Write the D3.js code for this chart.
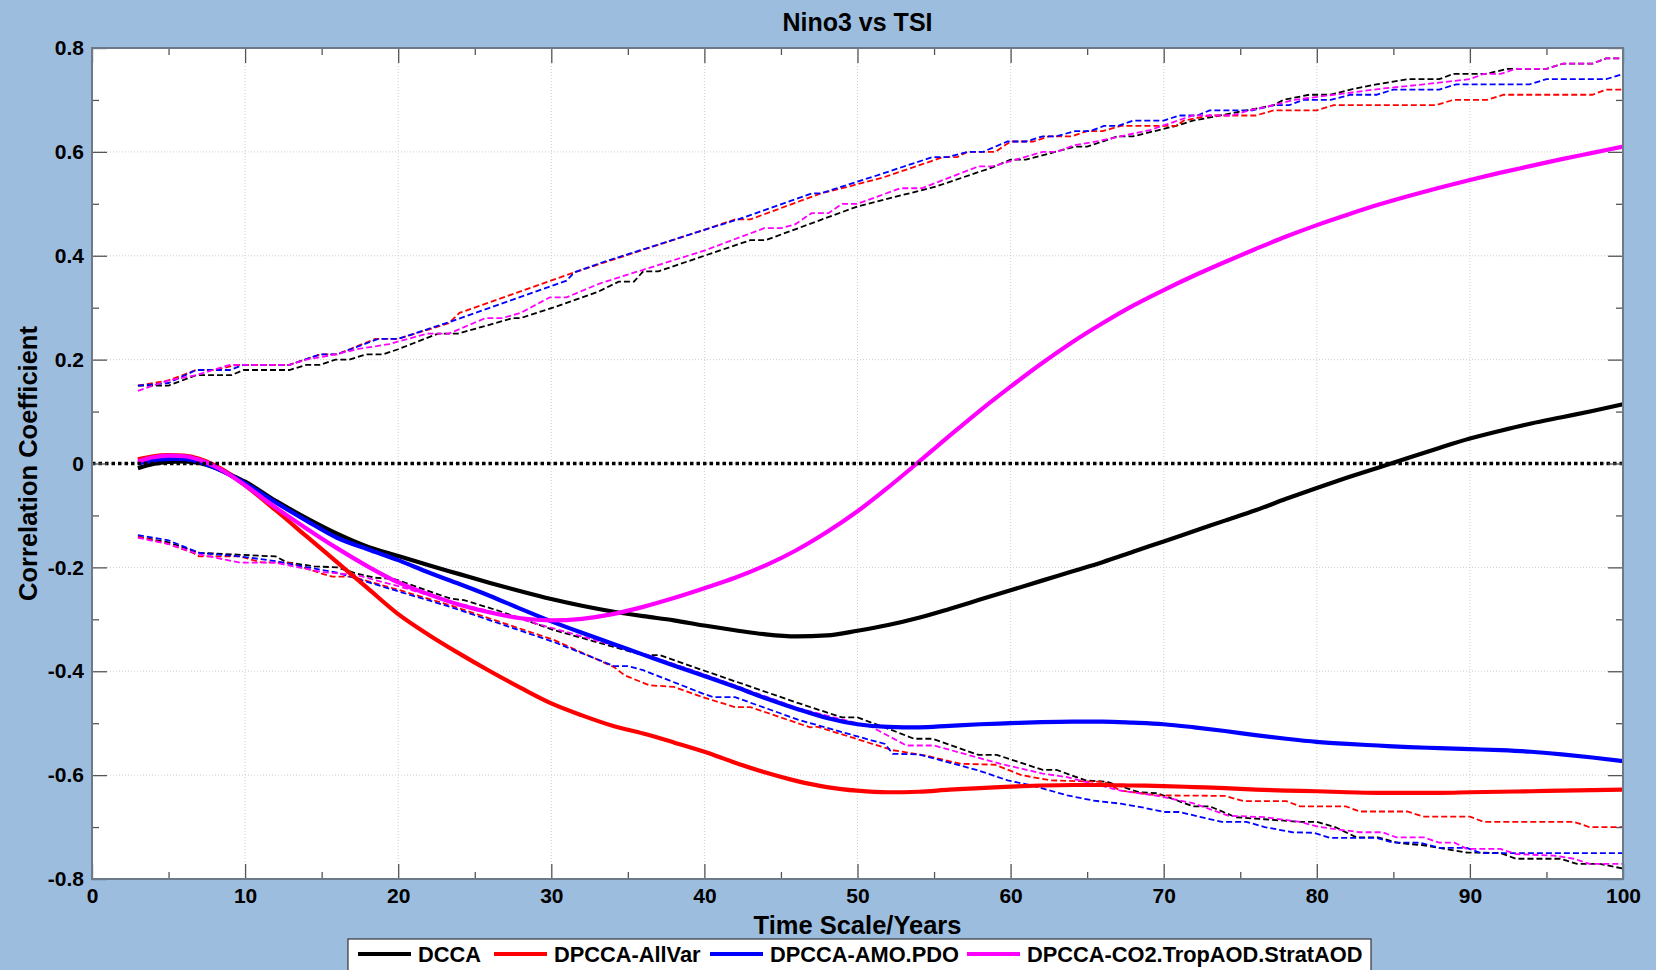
<!DOCTYPE html>
<html>
<head>
<meta charset="utf-8">
<script src="https://cdn.jsdelivr.net/npm/d3@7"></script>
<style>
  html, body { margin: 0; padding: 0; background: #9dbdde; }
  svg { display: block; font-family: "Liberation Sans", Arial, sans-serif; font-weight: bold; }
</style>
</head>
<body>
<div id="chart"></div>
<script>
// scale values on a shared grid for the solid curves
const scaleYears = [3, 4, 5, 6, 7, 8, 9, 10, 12, 14, 16, 18, 20, 22, 24, 26, 28, 30, 32, 34, 36, 38, 40, 42, 44, 46, 48, 50,
  52, 54, 56, 58, 60, 62, 64, 66, 68, 70, 72, 74, 76, 78, 80, 82, 84, 86, 88, 90, 92, 94, 96, 98, 100];

const dcca = [-0.009, -0.001, 0.003, 0.004, 0.001, -0.008, -0.021, -0.035, -0.072, -0.105, -0.135, -0.16, -0.178, -0.196,
  -0.213, -0.23, -0.246, -0.261, -0.274, -0.285, -0.294, -0.302, -0.312, -0.321, -0.329, -0.333, -0.331, -0.322, -0.311,
  -0.297, -0.28, -0.262, -0.244, -0.226, -0.208, -0.19, -0.17, -0.15, -0.13, -0.11, -0.09, -0.068, -0.047, -0.027, -0.008,
  0.011, 0.03, 0.048, 0.063, 0.077, 0.089, 0.101, 0.114];

const dpccaAllVar = [0.008, 0.014, 0.016, 0.015, 0.009, -0.003, -0.02, -0.042, -0.09, -0.14, -0.19, -0.24, -0.29, -0.33,
  -0.366, -0.4, -0.432, -0.462, -0.485, -0.505, -0.52, -0.537, -0.555, -0.576, -0.595, -0.611, -0.623, -0.63, -0.633,
  -0.632, -0.628, -0.625, -0.622, -0.62, -0.619, -0.619, -0.62, -0.621, -0.623, -0.625, -0.628, -0.63, -0.631, -0.633,
  -0.634, -0.634, -0.634, -0.633, -0.632, -0.631, -0.63, -0.629, -0.628];

const dpccaAmoPdo = [0.0, 0.006, 0.009, 0.009, 0.003, -0.008, -0.022, -0.038, -0.075, -0.11, -0.143, -0.165, -0.186, -0.21,
  -0.232, -0.255, -0.28, -0.304, -0.326, -0.347, -0.368, -0.389, -0.409, -0.43, -0.452, -0.472, -0.49, -0.502, -0.507,
  -0.508, -0.505, -0.502, -0.5, -0.498, -0.497, -0.497, -0.499, -0.502, -0.508, -0.515, -0.523, -0.53, -0.536, -0.54,
  -0.543, -0.546, -0.548, -0.55, -0.552, -0.555, -0.56, -0.566, -0.573];

const dpccaCo2 = [0.004, 0.012, 0.015, 0.014, 0.007, -0.005, -0.022, -0.042, -0.085, -0.125, -0.163, -0.198, -0.229, -0.252,
  -0.272, -0.287, -0.298, -0.302, -0.299, -0.29, -0.276, -0.259, -0.24, -0.22, -0.196, -0.167, -0.132, -0.092, -0.046,
  0.003, 0.053, 0.102, 0.148, 0.192, 0.233, 0.27, 0.304, 0.334, 0.362, 0.388, 0.413, 0.437, 0.459, 0.479, 0.498, 0.515,
  0.531, 0.546, 0.56, 0.573, 0.586, 0.598, 0.61];

// confidence bands (dashed), [year, value]
const dccaHi = [[3,0.15],[5,0.15],[6.8,0.17],[9.1,0.17],[9.9,0.18],[12.9,0.18],[14,0.19],[14.9,0.19],[15.9,0.2],[16.8,0.2],
  [17.9,0.21],[19,0.21],[20,0.22],[22.6,0.25],[23.9,0.25],[27.5,0.28],[28,0.28],[30.1,0.3],[33,0.33],[34.4,0.35],[35.4,0.35],
  [36,0.37],[37,0.37],[43,0.43],[44,0.43],[50,0.495],[55.1,0.533],[58.8,0.57],[60,0.585],[61,0.585],[64.2,0.61],[65,0.61],
  [67,0.63],[68,0.63],[70.8,0.65],[71.9,0.66],[77.2,0.69],[77.8,0.7],[79.5,0.71],[80.9,0.71],[82.2,0.72],[83.9,0.73],
  [85.9,0.74],[88,0.74],[88.9,0.75],[91,0.75],[92.5,0.76],[95,0.76],[96.1,0.77],[98,0.77],[98.9,0.78],[100,0.78]];
const dccaLo = [[3,-0.141],[5,-0.152],[7,-0.172],[12,-0.179],[12.7,-0.19],[14.5,-0.198],[16,-0.2],[17.3,-0.212],[18.5,-0.22],
  [19.7,-0.222],[23.4,-0.26],[24.3,-0.263],[26.6,-0.284],[30.2,-0.321],[36,-0.369],[37.1,-0.369],[39.9,-0.398],[46.2,-0.462],
  [49,-0.489],[50,-0.489],[52.3,-0.514],[53.7,-0.53],[54.9,-0.53],[57.9,-0.561],[59.1,-0.561],[62.1,-0.59],[63,-0.59],
  [64.9,-0.61],[66.3,-0.613],[68.4,-0.633],[69.6,-0.635],[71.9,-0.66],[73,-0.66],[74.7,-0.681],[76.6,-0.685],[78.9,-0.69],
  [80,-0.69],[81.2,-0.7],[82.6,-0.72],[84,-0.72],[85.4,-0.731],[87,-0.735],[88,-0.74],[89.8,-0.749],[92,-0.75],[93,-0.761],
  [95.9,-0.761],[97,-0.771],[98.5,-0.771],[100,-0.78]];

const allVarHi = [[3,0.15],[5,0.16],[6.8,0.18],[8,0.18],[9.5,0.19],[12.9,0.19],[14.9,0.21],[16,0.21],[18.5,0.24],[20,0.24],
  [23.3,0.27],[24,0.29],[31.5,0.368],[40,0.45],[42,0.47],[43,0.47],[47.6,0.52],[49,0.53],[51.6,0.55],[55.6,0.59],[56.5,0.59],
  [57.2,0.6],[59,0.6],[60,0.62],[61.5,0.62],[62.5,0.63],[64,0.63],[65,0.64],[66,0.64],[67.2,0.65],[70.8,0.65],[71.3,0.66],
  [73,0.67],[76,0.67],[77.2,0.68],[80,0.68],[81.1,0.69],[87.8,0.69],[88.9,0.7],[91.1,0.7],[92.2,0.71],[98,0.71],[98.9,0.72],
  [100,0.72]];
const allVarLo = [[3,-0.141],[5,-0.155],[6.6,-0.172],[7,-0.179],[9.7,-0.179],[11,-0.19],[13,-0.192],[15,-0.212],[15.7,-0.218],
  [17,-0.218],[20.1,-0.244],[23.4,-0.273],[30.2,-0.34],[34.1,-0.392],[34.8,-0.408],[36.4,-0.427],[38,-0.43],[39.9,-0.45],
  [42,-0.469],[43,-0.469],[46.9,-0.508],[47.4,-0.507],[52.3,-0.552],[54.4,-0.562],[56.7,-0.578],[59,-0.58],[60.7,-0.6],
  [62.6,-0.61],[66.1,-0.613],[67.2,-0.63],[69.6,-0.639],[74,-0.64],[75.2,-0.65],[78,-0.65],[78.9,-0.66],[81.9,-0.66],
  [82.8,-0.67],[85.9,-0.67],[87,-0.68],[90,-0.68],[90.9,-0.69],[96.8,-0.69],[97.8,-0.7],[100,-0.7]];

const amoPdoHi = [[3,0.15],[5,0.155],[6.8,0.18],[9,0.18],[9.9,0.19],[12.9,0.19],[14.9,0.21],[16,0.21],[18.7,0.24],[20,0.24],
  [23.3,0.272],[31,0.352],[31.5,0.368],[33.2,0.386],[40,0.45],[42.2,0.47],[47,0.52],[47.6,0.52],[51.1,0.553],[54.9,0.59],
  [55.9,0.59],[57.2,0.6],[58.2,0.6],[59.8,0.62],[61,0.62],[62.1,0.63],[63,0.63],[64.2,0.64],[65.2,0.64],[66.1,0.65],[67,0.65],
  [68,0.66],[70,0.66],[71,0.67],[72.2,0.67],[73,0.68],[75.8,0.68],[77.2,0.69],[78.2,0.69],[79.1,0.7],[80.9,0.7],[82.2,0.71],
  [83.9,0.71],[85,0.72],[88,0.72],[89.1,0.73],[93.9,0.73],[95,0.74],[98.9,0.74],[100,0.75]];
const amoPdoLo = [[3,-0.138],[5,-0.148],[7,-0.172],[9.7,-0.179],[12,-0.188],[15,-0.205],[16,-0.21],[20.1,-0.247],[23.4,-0.276],
  [30.2,-0.344],[34.1,-0.39],[35,-0.39],[36,-0.398],[39.9,-0.443],[40.6,-0.45],[42,-0.45],[46.2,-0.494],[50.9,-0.533],
  [51.8,-0.54],[52.3,-0.559],[54,-0.56],[57.9,-0.591],[59.8,-0.61],[61.4,-0.62],[63.7,-0.639],[65.4,-0.649],[67.2,-0.655],
  [68.6,-0.662],[70,-0.671],[71,-0.671],[73.8,-0.69],[75.4,-0.69],[76.6,-0.7],[78.4,-0.71],[79.8,-0.711],[80.9,-0.721],
  [83.9,-0.721],[85,-0.73],[86.7,-0.73],[88,-0.74],[89.8,-0.74],[90.7,-0.75],[100,-0.75]];

const co2Hi = [[3,0.14],[5,0.16],[6.8,0.17],[9,0.19],[12.9,0.19],[14,0.2],[15.9,0.21],[17.3,0.22],[19.4,0.23],[21.9,0.25],
  [23.3,0.25],[25.7,0.28],[26.8,0.28],[28,0.29],[29.9,0.32],[31,0.32],[33.2,0.347],[36,0.373],[40,0.41],[43.9,0.453],[45,0.453],
  [45.9,0.46],[47,0.482],[48.1,0.482],[49,0.5],[50,0.5],[52.8,0.53],[54.2,0.53],[57.9,0.572],[58.8,0.572],[62.1,0.6],[63,0.6],
  [64.2,0.613],[65.6,0.62],[69.1,0.642],[71.9,0.67],[74.5,0.67],[75.6,0.68],[77.2,0.69],[78.5,0.7],[84.3,0.722],[87,0.73],
  [90,0.74],[90.9,0.75],[92,0.75],[93,0.76],[95,0.76],[96.1,0.77],[98,0.77],[98.9,0.78],[100,0.78]];
const co2Lo = [[3,-0.143],[5,-0.155],[7,-0.175],[9.7,-0.191],[12,-0.191],[15,-0.209],[17.3,-0.215],[20.1,-0.237],[23.4,-0.266],
  [27.1,-0.292],[30.2,-0.318],[36,-0.366],[39.9,-0.405],[46.2,-0.472],[50.9,-0.507],[53.2,-0.543],[55,-0.543],[59.3,-0.578],
  [62.1,-0.597],[63.7,-0.604],[67.2,-0.63],[69.6,-0.64],[71.9,-0.654],[74.2,-0.678],[76.6,-0.681],[78.9,-0.69],[80.2,-0.7],
  [82.8,-0.71],[84.3,-0.71],[85.2,-0.72],[87,-0.72],[88,-0.73],[89,-0.73],[89.8,-0.742],[92,-0.742],[93,-0.752],[95.5,-0.755],
  [96.8,-0.761],[97.8,-0.771],[100,-0.771]];

const seriesNames = ['DCCA', 'DPCCA-AllVar', 'DPCCA-AMO.PDO', 'DPCCA-CO2.TropAOD.StratAOD'];
const seriesColors = ['#000000', '#ff0000', '#0000ff', '#ff00ff'];
const xTicks = [0, 10, 20, 30, 40, 50, 60, 70, 80, 90, 100];
const xMinorTicks = [5, 15, 25, 35, 45, 55, 65, 75, 85, 95];
const yTicks = [-0.8, -0.6, -0.4, -0.2, 0, 0.2, 0.4, 0.6, 0.8];
const yMinorTicks = [-0.7, -0.5, -0.3, -0.1, 0.1, 0.3, 0.5, 0.7];

const width = 1656;
const height = 970;
const margin = {top: 48, right: 33, bottom: 91, left: 92};

const svg = d3.select('#chart').append('svg')
  .attr('width', width)
  .attr('height', height);

const x = d3.scaleLinear().domain([0, 100]).range([margin.left, width - margin.right]);
const y = d3.scaleLinear().domain([-0.8, 0.8]).range([height - margin.bottom, margin.top]);

// plot background
svg.append('rect')
  .attr('x', x(0)).attr('y', y(0.8))
  .attr('width', x(100) - x(0)).attr('height', y(-0.8) - y(0.8))
  .attr('fill', '#fff');

// grid
const grid = svg.append('g').attr('stroke', '#cfcfcf').attr('stroke-width', 1).attr('stroke-dasharray', '1,2');
grid.selectAll('.gx').data(xTicks.slice(1, -1)).join('line')
  .attr('x1', d => x(d)).attr('x2', d => x(d)).attr('y1', y(0.8)).attr('y2', y(-0.8));
grid.selectAll('.gy').data(yTicks.slice(1, -1)).join('line')
  .attr('x1', x(0)).attr('x2', x(100)).attr('y1', d => y(d)).attr('y2', d => y(d));

// series
const solidLine = d3.line().x((d, i) => x(scaleYears[i])).y(d => y(d)).curve(d3.curveMonotoneX);
const bandLine = d3.line().x(d => x(d[0])).y(d => y(d[1]));

const solids = [dcca, dpccaAllVar, dpccaAmoPdo, dpccaCo2];
const bands = [[dccaHi, dccaLo], [allVarHi, allVarLo], [amoPdoHi, amoPdoLo], [co2Hi, co2Lo]];

const plot = svg.append('g');
solids.forEach((s, i) => {
  bands[i].forEach(b => {
    plot.append('path')
      .attr('d', bandLine(b))
      .attr('fill', 'none')
      .attr('stroke', seriesColors[i])
      .attr('stroke-width', 1.8)
      .attr('stroke-dasharray', '6,3');
  });
});
solids.forEach((s, i) => {
  plot.append('path')
    .attr('d', solidLine(s))
    .attr('fill', 'none')
    .attr('stroke', seriesColors[i])
    .attr('stroke-width', 4.2)
    .attr('stroke-linejoin', 'round');
});

// zero reference
plot.append('line')
  .attr('x1', x(0)).attr('x2', x(100)).attr('y1', y(0)).attr('y2', y(0))
  .attr('stroke', '#000').attr('stroke-width', 3.5).attr('stroke-dasharray', '3.5,3');

// axes, ticks pointing inward on all four sides
const fmtY = d => d === 0 ? '0' : d.toFixed(1);
function styleAxis(g) {
  g.select('.domain').remove();
  g.selectAll('.tick line').attr('stroke', '#555').attr('stroke-width', 1.3);
  g.selectAll('text').attr('fill', '#000').style('font-size', '21px').style('font-weight', 'bold')
    .style('font-family', '"Liberation Sans", Arial, sans-serif');
}
svg.append('g').attr('transform', `translate(0,${y(-0.8)})`)
  .call(d3.axisBottom(x).tickValues(xTicks).tickSizeInner(-15).tickSizeOuter(0).tickPadding(9)).call(styleAxis);
svg.append('g').attr('transform', `translate(0,${y(-0.8)})`)
  .call(d3.axisBottom(x).tickValues(xMinorTicks).tickSizeInner(-7).tickSizeOuter(0).tickFormat('')).call(styleAxis);
svg.append('g').attr('transform', `translate(0,${y(0.8)})`)
  .call(d3.axisTop(x).tickValues(xTicks).tickSizeInner(-15).tickSizeOuter(0).tickFormat('')).call(styleAxis);
svg.append('g').attr('transform', `translate(0,${y(0.8)})`)
  .call(d3.axisTop(x).tickValues(xMinorTicks).tickSizeInner(-7).tickSizeOuter(0).tickFormat('')).call(styleAxis);
svg.append('g').attr('transform', `translate(${x(0)},0)`)
  .call(d3.axisLeft(y).tickValues(yTicks).tickSizeInner(-15).tickSizeOuter(0).tickPadding(8).tickFormat(fmtY)).call(styleAxis);
svg.append('g').attr('transform', `translate(${x(0)},0)`)
  .call(d3.axisLeft(y).tickValues(yMinorTicks).tickSizeInner(-7).tickSizeOuter(0).tickFormat('')).call(styleAxis);
svg.append('g').attr('transform', `translate(${x(100)},0)`)
  .call(d3.axisRight(y).tickValues(yTicks).tickSizeInner(-15).tickSizeOuter(0).tickFormat('')).call(styleAxis);
svg.append('g').attr('transform', `translate(${x(100)},0)`)
  .call(d3.axisRight(y).tickValues(yMinorTicks).tickSizeInner(-7).tickSizeOuter(0).tickFormat('')).call(styleAxis);

// frame
svg.append('rect')
  .attr('x', x(0)).attr('y', y(0.8))
  .attr('width', x(100) - x(0)).attr('height', y(-0.8) - y(0.8))
  .attr('fill', 'none').attr('stroke', '#6b7989').attr('stroke-width', 2);

// titles
svg.append('text')
  .attr('x', (x(0) + x(100)) / 2).attr('y', 31)
  .attr('text-anchor', 'middle').style('font-size', '25px')
  .text('Nino3 vs TSI');
svg.append('text')
  .attr('x', (x(0) + x(100)) / 2).attr('y', 934)
  .attr('text-anchor', 'middle').style('font-size', '25.5px')
  .text('Time Scale/Years');
svg.append('text')
  .attr('transform', `translate(37,${(y(0.8) + y(-0.8)) / 2}) rotate(-90)`)
  .attr('text-anchor', 'middle').style('font-size', '25.5px')
  .text('Correlation Coefficient');

// legend
const legend = svg.append('g').attr('transform', 'translate(348,939)');
legend.append('rect')
  .attr('width', 1023).attr('height', 45)
  .attr('fill', '#fff').attr('stroke', '#333').attr('stroke-width', 1.2);
const entryX = [10, 146, 362, 619];
seriesNames.forEach((name, i) => {
  const g = legend.append('g').attr('transform', `translate(${entryX[i]},0)`);
  g.append('line').attr('x1', 0).attr('x2', 53).attr('y1', 15).attr('y2', 15)
    .attr('stroke', seriesColors[i]).attr('stroke-width', 4);
  g.append('text').attr('x', 60).attr('y', 23).style('font-size', '21.8px').text(name);
});
</script>
</body>
</html>
